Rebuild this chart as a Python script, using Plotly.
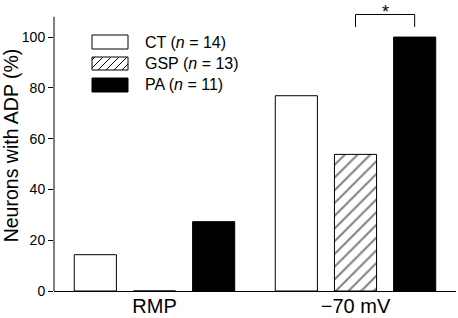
import plotly.graph_objects as go

categories = ["RMP", "\u221270 mV"]
ct_values = [14.3, 76.9]
gsp_values = [0, 53.8]
pa_values = [27.3, 100]
series_names = ["CT", "GSP", "PA"]
series_n = [14, 13, 11]
y_ticks = [0, 20, 40, 60, 80, 100]

W, H = 458, 318
L, R, T, B = 54, 2, 0, 27
PW, PH = W - L - R, H - T - B
BARGAP = 0.117
BARGROUPGAP = 0.288
FONT = "Liberation Sans, Arial, sans-serif"

def px2paper(x, y):
    return (x - L) / PW, (H - B - y) / PH

fig = go.Figure()
fig.add_trace(go.Bar(x=categories, y=ct_values, name="CT",
                     marker=dict(color="white", line=dict(color="black", width=1))))
fig.add_trace(go.Bar(x=categories, y=gsp_values, name="GSP",
                     marker=dict(color="white", line=dict(color="black", width=1),
                                 pattern=dict(shape="/", size=9, solidity=0.22,
                                              fgcolor="black", bgcolor="white"))))
fig.add_trace(go.Bar(x=categories, y=pa_values, name="PA",
                     marker=dict(color="black", line=dict(color="black", width=1))))

shapes = []
# y-axis line (stops a little above 100)
shapes.append(dict(type="line", xref="paper", yref="y", x0=0, x1=0, y0=0, y1=108,
                   line=dict(color="black", width=1)))
# significance bracket between GSP and PA at -70 mV
slot = (1 - BARGAP) / 3
bx0, bx1 = 1.0, 1.0 + slot
shapes.append(dict(type="path", xref="x", yref="y",
                   path=f"M {bx0} 104 L {bx0} 108.9 L {bx1} 108.9 L {bx1} 104",
                   line=dict(color="black", width=1)))

# manual legend
boxes = [(92, 35, 128, 49), (92, 57, 128, 70), (92, 78, 128, 92)]
fills = ["white", "white", "black"]
annotations = []
for i, (x0, y0, x1, y1) in enumerate(boxes):
    p0 = px2paper(x0, y1)
    p1 = px2paper(x1, y0)
    shapes.append(dict(type="rect", xref="paper", yref="paper",
                       x0=p0[0], y0=p0[1], x1=p1[0], y1=p1[1],
                       fillcolor=fills[i], line=dict(color="black", width=1)))
    if i == 1:
        w, h = x1 - x0, y1 - y0
        segs = []
        c = -h + 3
        while c < w:
            xs, xe = max(c, 0), min(c + h, w)
            if xe > xs:
                a = px2paper(x0 + xs, y1 - (xs - c))
                b = px2paper(x0 + xe, y1 - (xe - c))
                segs.append(f"M {a[0]} {a[1]} L {b[0]} {b[1]}")
            c += 8
        shapes.append(dict(type="path", xref="paper", yref="paper", path=" ".join(segs),
                           line=dict(color="black", width=1)))
    tx, ty = px2paper(143, (y0 + y1) / 2)
    annotations.append(dict(xref="paper", yref="paper", x=tx, y=ty, xanchor="left",
                            yanchor="middle", showarrow=False,
                            text=f"{series_names[i]} (<i>n</i> = {series_n[i]})",
                            font=dict(size=16, color="black", family=FONT)))

annotations.append(dict(xref="x", yref="y", x=(bx0 + bx1) / 2, y=110, text="*",
                        showarrow=False, yanchor="middle",
                        font=dict(size=18, color="black", family=FONT)))

fig.update_layout(
    width=W, height=H,
    margin=dict(l=L, r=R, t=T, b=B, pad=0),
    barmode="group", bargap=BARGAP, bargroupgap=BARGROUPGAP,
    plot_bgcolor="white", paper_bgcolor="white",
    showlegend=False,
    font=dict(family=FONT, color="black"),
    shapes=shapes, annotations=annotations,
    xaxis=dict(range=[-0.5, 1.5], showline=True, linecolor="black", linewidth=1,
               ticks="", showgrid=False, zeroline=False, automargin=False,
               ticklabelstandoff=-3,
               tickfont=dict(size=20, color="black", family=FONT)),
    yaxis=dict(range=[0, 114.6], tickvals=y_ticks, ticks="outside", ticklen=5,
               tickcolor="black", showline=False, showgrid=False, zeroline=False,
               automargin=False,
               tickfont=dict(size=14, color="black", family=FONT),
               title=dict(text="Neurons with ADP (%)", standoff=4,
                          font=dict(size=19.5, color="black", family=FONT))),
)

fig.write_html("out.html", config={"displayModeBar": False},
               post_script="document.body.style.margin='0';")
